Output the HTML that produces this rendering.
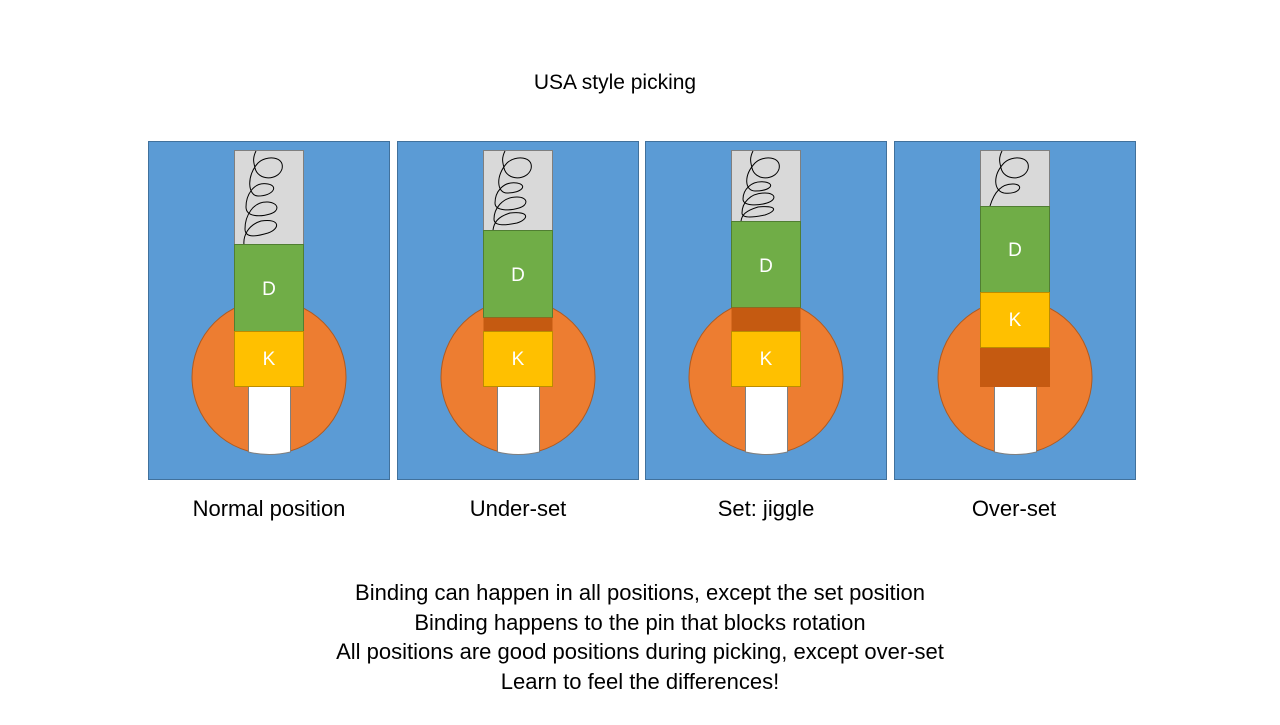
<!DOCTYPE html>
<html><head><meta charset="utf-8"><style>
body{margin:0;background:#fff;width:1280px;height:720px;overflow:hidden}
svg text{font-family:"Liberation Sans",sans-serif}
</style></head><body>
<svg width="1280" height="720" viewBox="0 0 1280 720">
<defs>
<g id="frame">
<rect x="0.5" y="0.5" width="241" height="338" fill="#5b9bd5" stroke="#41719c"/>
<circle cx="121" cy="236" r="77" fill="#ed7d31" stroke="#ae5a21"/>
<rect x="86.5" y="9.5" width="69" height="100" fill="#d9d9d9" stroke="#7f7f7f"/>
</g>
<path id="slot" d="M100.5 246 V311 Q121 316 142.5 311 V246" fill="#fff" stroke="#7f7f7f"/>
</defs>
<text x="615" y="89" font-size="21" text-anchor="middle">USA style picking</text>

<g transform="translate(148,141)">
<use href="#frame"/>
<path d="M108 10 C104 18,106 22,107 27 C110 40,130 40,134 28 C137 15,118 14,110 22 C98 35,100 55,110 55 C125 55,131 45,120 43 C105 40,98 55,98 66 C98 76,112 76,122 73 C132 70,131 62,120 61 C105 60,97 75,97 88 C97 98,110 95,120 92 C132 88,133 77,113 80 C100 84,95 95,96 104" fill="none" stroke="#000" stroke-width="1"/>
<rect x="86.5" y="103.5" width="69" height="87" fill="#70ad47" stroke="#507e32"/>
<rect x="86.5" y="190.5" width="69" height="55" fill="#ffc000" stroke="#bc8c00"/>
<use href="#slot"/>
<text x="121" y="154" font-size="19" fill="#fff" text-anchor="middle">D</text>
<text x="121" y="224" font-size="19" fill="#fff" text-anchor="middle">K</text>
</g>

<g transform="translate(397,141)">
<use href="#frame"/>
<path d="M108 10 C104 18,106 22,107 27 C110 40,130 40,134 28 C137 15,118 14,110 22 C98 35,100 52,110 52 C125 52,131 44,120 42 C105 40,98 52,98 62 C98 70,112 70,122 67 C132 64,131 56,120 56 C105 56,97 68,97 78 C97 86,110 84,120 82 C132 78,133 70,113 72 C100 76,97 82,96 89" fill="none" stroke="#000" stroke-width="1"/>
<rect x="86.5" y="89.5" width="69" height="87" fill="#70ad47" stroke="#507e32"/>
<rect x="86.5" y="176.5" width="69" height="14" fill="#c55a11"/>
<rect x="86.5" y="190.5" width="69" height="55" fill="#ffc000" stroke="#bc8c00"/>
<use href="#slot"/>
<text x="121" y="140" font-size="19" fill="#fff" text-anchor="middle">D</text>
<text x="121" y="224" font-size="19" fill="#fff" text-anchor="middle">K</text>
</g>

<g transform="translate(645,141)">
<use href="#frame"/>
<path d="M108 10 C104 18,106 22,107 27 C110 40,130 40,134 28 C137 15,118 14,110 22 C98 35,100 50,110 50 C125 50,131 43,120 41 C105 39,98 50,98 58 C98 65,112 65,122 62 C132 59,131 52,120 52 C105 52,97 62,97 72 C97 78,110 76,120 74 C132 70,133 64,113 66 C100 70,97 74,96 80" fill="none" stroke="#000" stroke-width="1"/>
<rect x="86.5" y="80.5" width="69" height="86" fill="#70ad47" stroke="#507e32"/>
<rect x="86.5" y="166.5" width="69" height="24" fill="#c55a11"/>
<rect x="86.5" y="190.5" width="69" height="55" fill="#ffc000" stroke="#bc8c00"/>
<use href="#slot"/>
<text x="121" y="131" font-size="19" fill="#fff" text-anchor="middle">D</text>
<text x="121" y="224" font-size="19" fill="#fff" text-anchor="middle">K</text>
</g>

<g transform="translate(894,141)">
<use href="#frame"/>
<path d="M108 10 C104 18,106 22,107 27 C110 40,130 40,134 28 C137 15,118 14,110 22 C98 35,100 50,110 52 C125 54,131 44,120 43 C105 42,99 55,96 65" fill="none" stroke="#000" stroke-width="1"/>
<rect x="86.5" y="65.5" width="69" height="86" fill="#70ad47" stroke="#507e32"/>
<rect x="86.5" y="151.5" width="69" height="55" fill="#ffc000" stroke="#bc8c00"/>
<rect x="86" y="207" width="70" height="39" fill="#c55a11"/>
<use href="#slot"/>
<text x="121" y="115" font-size="19" fill="#fff" text-anchor="middle">D</text>
<text x="121" y="185" font-size="19" fill="#fff" text-anchor="middle">K</text>
</g>

<g font-size="22" text-anchor="middle">
<text x="269" y="516">Normal position</text>
<text x="518" y="516">Under-set</text>
<text x="766" y="516">Set: jiggle</text>
<text x="1014" y="516">Over-set</text>
<text x="640" y="600">Binding can happen in all positions, except the set position</text>
<text x="640" y="630">Binding happens to the pin that blocks rotation</text>
<text x="640" y="659">All positions are good positions during picking, except over-set</text>
<text x="640" y="689">Learn to feel the differences!</text>
</g>
</svg>
</body></html>
